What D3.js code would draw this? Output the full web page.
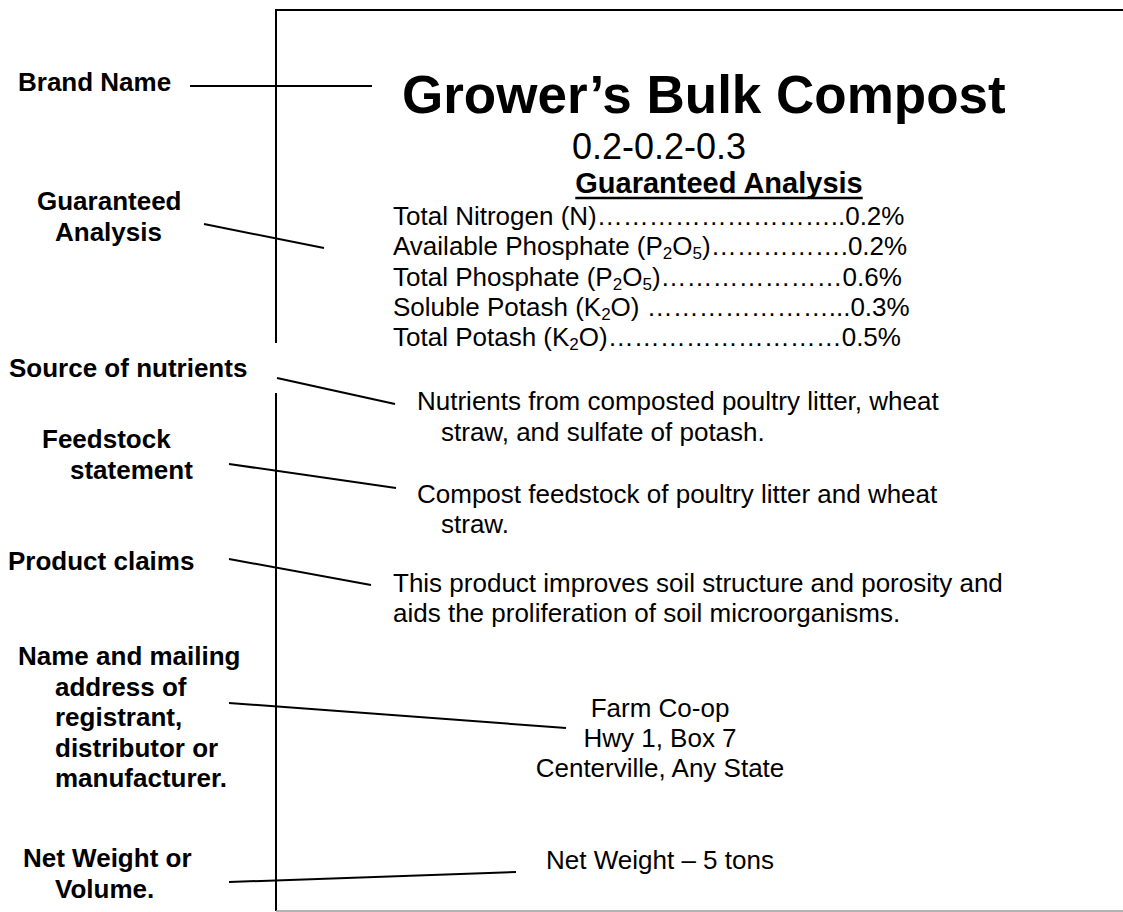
<!DOCTYPE html>
<html>
<head>
<meta charset="utf-8">
<script src="https://cdn.jsdelivr.net/npm/d3@7"></script>
<style>
body { margin: 0; background: #fff; }
svg { display: block; font-family: "Liberation Sans", Arial, sans-serif; }
</style>
</head>
<body>
<svg></svg>
<script>
// label content
var brandName = "Grower’s Bulk Compost";
var grade = "0.2-0.2-0.3";
var analysisTitle = "Guaranteed Analysis";
var nutrientNames = ["Total Nitrogen (N)", "Available Phosphate (P_2O_5)", "Total Phosphate (P_2O_5)", "Soluble Potash (K_2O) ", "Total Potash (K_2O)"];
var nutrientValues = [0.2, 0.2, 0.6, 0.3, 0.5];
var sourceText = ["Nutrients from composted poultry litter, wheat", "straw, and sulfate of potash."];
var feedstockText = ["Compost feedstock of poultry litter and wheat", "straw."];
var claimsText = ["This product improves soil structure and porosity and", "aids the proliferation of soil microorganisms."];
var addressText = ["Farm Co-op", "Hwy 1, Box 7", "Centerville, Any State"];
var weightText = ["Net Weight – 5 tons"];
var calloutLabels = [
  ["Brand Name"],
  ["Guaranteed", "Analysis"],
  ["Source of nutrients"],
  ["Feedstock", "statement"],
  ["Product claims"],
  ["Name and mailing", "address of", "registrant,", "distributor or", "manufacturer."],
  ["Net Weight or", "Volume."]
];

// layout
var width = 1123, height = 912;
var boxLeft = 276, boxTop = 10, boxBottom = 911;
var labelPos = [
  {x: [18], y: 91},
  {x: [37, 55], y: 210},
  {x: [9], y: 377},
  {x: [42, 70], y: 448},
  {x: [8], y: 570},
  {x: [18, 55, 55, 55, 55], y: 665},
  {x: [23, 55], y: 867}
];
var leaders = [
  [190, 86, 372, 86],
  [204, 224, 324, 248],
  [277, 378, 395, 404],
  [229, 464, 396, 488],
  [229, 559, 371, 585],
  [229, 703, 566, 728],
  [229, 882, 516, 872]
];
var valueX = [852, 852, 845, 847, 843];

var svg = d3.select("svg")
  .attr("width", width)
  .attr("height", height);

// label border (no right edge)
svg.append("path")
  .attr("d", "M" + width + "," + boxTop + "H" + boxLeft + "V" + boxBottom)
  .attr("fill", "none")
  .attr("stroke", "#000")
  .attr("stroke-width", 2);
svg.append("line")
  .attr("x1", boxLeft).attr("x2", width)
  .attr("y1", boxBottom).attr("y2", boxBottom)
  .attr("stroke", "#999")
  .attr("stroke-width", 1.5);

// white patch behind "Source of nutrients"
svg.append("rect")
  .attr("x", 0).attr("y", 343)
  .attr("width", boxLeft + 2).attr("height", 50)
  .attr("fill", "#fff");

// title, grade, analysis header
svg.append("text")
  .attr("x", 402).attr("y", 113)
  .attr("font-size", 53).attr("font-weight", "bold")
  .text(brandName);

svg.append("text")
  .attr("x", 659).attr("y", 159)
  .attr("text-anchor", "middle")
  .attr("font-size", 36)
  .text(grade);

var head = svg.append("text")
  .attr("x", 719).attr("y", 193)
  .attr("text-anchor", "middle")
  .attr("font-size", 29).attr("font-weight", "bold")
  .text(analysisTitle);
var hb = head.node().getBBox();
svg.append("line")
  .attr("x1", hb.x).attr("x2", hb.x + hb.width)
  .attr("y1", 198).attr("y2", 198)
  .attr("stroke", "#000").attr("stroke-width", 2.5);

// guaranteed analysis rows
var rowY = d3.scaleLinear().domain([0, nutrientNames.length - 1]).range([225, 346]);
var fmt = d3.format(".1f");

var probe = svg.append("text").attr("font-size", 26).text("…");
var ellW = probe.node().getComputedTextLength();
probe.text(".");
var dotW = probe.node().getComputedTextLength();
probe.remove();

nutrientNames.forEach(function(name, i){
  var t = svg.append("text")
    .attr("x", 393).attr("y", rowY(i))
    .attr("font-size", 26);
  var shifted = false;
  name.split(/_(\d)/).forEach(function(part, j){
    if (part === "") return;
    if (j % 2 === 1) {
      t.append("tspan").attr("font-size", 17).attr("dy", 4).text(part);
      shifted = true;
    } else {
      var s = t.append("tspan").text(part);
      if (shifted) { s.attr("dy", -4); shifted = false; }
    }
  });
  var end = 393 + t.node().getComputedTextLength();
  var gap = valueX[i] - end;
  var nEll = Math.floor(gap / ellW);
  var nDot = Math.floor((gap - nEll * ellW) / dotW);
  var dots = t.append("tspan").text("…".repeat(nEll) + ".".repeat(nDot));
  if (shifted) dots.attr("dy", -4);
  t.append("tspan").text(fmt(nutrientValues[i]) + "%");
});

// body paragraphs
var drawLines = function(lines, xs, y0, lh, anchor){
  svg.append("g").selectAll("text")
    .data(lines)
    .enter()
    .append("text")
    .attr("x", function(d, i){ return xs[i]; })
    .attr("y", function(d, i){ return y0 + i * lh; })
    .attr("text-anchor", anchor)
    .attr("font-size", 26)
    .text(function(d){ return d; });
};

drawLines(sourceText, [417, 441], 410, 31, "start");
drawLines(feedstockText, [417, 441], 503, 30, "start");
drawLines(claimsText, [393, 393], 592, 30, "start");
drawLines(addressText, [660, 660, 660], 717, 30, "middle");
drawLines(weightText, [660], 869, 30, "middle");

// callout labels on the left
calloutLabels.forEach(function(lines, k){
  svg.append("g").selectAll("text")
    .data(lines)
    .enter()
    .append("text")
    .attr("x", function(d, i){ return labelPos[k].x[i]; })
    .attr("y", function(d, i){ return labelPos[k].y + i * 30.5; })
    .attr("font-size", 26)
    .attr("font-weight", "bold")
    .text(function(d){ return d; });
});

// leader lines
svg.selectAll("line.leader")
  .data(leaders)
  .enter()
  .append("line")
  .attr("class", "leader")
  .attr("x1", function(d){ return d[0]; })
  .attr("y1", function(d){ return d[1]; })
  .attr("x2", function(d){ return d[2]; })
  .attr("y2", function(d){ return d[3]; })
  .attr("stroke", "#000")
  .attr("stroke-width", 2);
</script>
</body>
</html>
